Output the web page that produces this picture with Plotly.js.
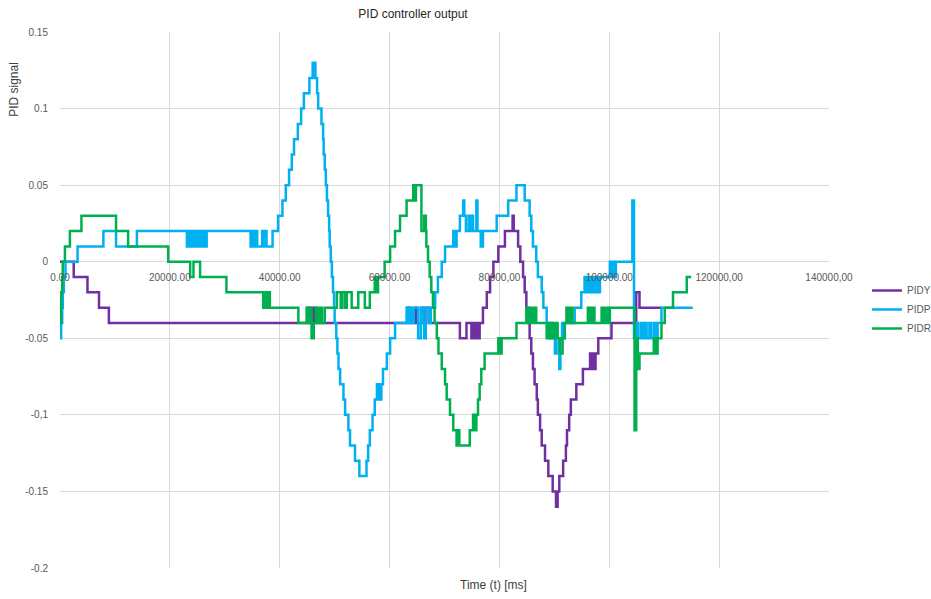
<!DOCTYPE html>
<html>
<head>
<meta charset="utf-8">
<script src="https://cdn.plot.ly/plotly-3.0.1.min.js"></script>
<style>
html,body{margin:0;padding:0;background:#fff;}
#chart{width:931px;height:599px;}
</style>
</head>
<body>
<div id="chart"></div>
<script>
// ---- Data (time in ms, PID signal values) ----
const seriesNames = ["PIDY", "PIDP", "PIDR"];

const tPIDY = [0, 2500, 5000, 7100, 8900, 45000, 45200, 45400, 45700, 45900, 46100, 46400, 46600,
  63300, 63700, 64600, 65000, 65800, 66200, 66700, 67300, 72800, 74000, 74900, 75300, 75500, 75900,
  76200, 76400, 77000, 77700, 78300, 78900, 79800, 81000, 82400, 82600, 83400, 83800, 84300, 84600,
  84900, 85200, 85500, 85800, 86100, 86400, 86800, 87000, 87400, 87700, 88300, 88900, 89700, 90300,
  90600, 90900, 91600, 92100, 92300, 92700, 93000, 94000, 95200, 96500, 96700, 97000, 97300, 97500,
  98000, 100400, 104900, 105500, 109500];
const vPIDY = [0, -0.01, -0.02, -0.03, -0.04, -0.03, -0.04, -0.03, -0.04, -0.03, -0.04, -0.03, -0.04,
  -0.03, -0.04, -0.03, -0.04, -0.03, -0.04, -0.03, -0.04, -0.05, -0.04, -0.05, -0.04, -0.05, -0.04,
  -0.05, -0.04, -0.03, -0.02, -0.01, 0, 0.01, 0.02, 0.03, 0.02, 0.01, 0, -0.01, -0.02,
  -0.03, -0.04, -0.05, -0.06, -0.07, -0.08, -0.09, -0.10, -0.11, -0.12, -0.13, -0.14, -0.15, -0.16,
  -0.15, -0.14, -0.13, -0.12, -0.11, -0.10, -0.09, -0.08, -0.07, -0.06, -0.07, -0.06, -0.07, -0.06,
  -0.05, -0.04, -0.02, -0.03, -0.03];

const tPIDP = [0, 200, 400, 500, 700, 1000, 3200, 7900, 10200, 14000, 23100, 23300, 23600, 23800,
  24100, 24400, 24700, 24900, 25200, 25500, 25800, 26000, 26300, 26700, 34700, 35000, 35300, 35600,
  35900, 36800, 37100, 37400, 37600, 38700, 39700, 40500, 41100, 41700, 42200, 42600, 43300, 43900,
  44400, 45400, 46000, 46100, 46300, 46500, 46800, 47000, 47600, 47900, 48000, 48200, 48400, 48600,
  48800, 49000, 49100, 49300, 49500, 49700, 49900, 50000, 50300, 50500, 50700, 51000, 51600, 51900,
  52500, 52800, 53700, 54500, 55800, 56100, 56400, 56900, 57300, 57700, 57900, 58100, 58300, 58500,
  58800, 59500, 60100, 61000, 63100, 63400, 63700, 64100, 64400, 65200, 65700, 66100, 66300, 66600,
  67200, 67500, 68300, 68800, 69500, 70100, 71600, 71900, 72200, 72800, 73400, 73600, 73900, 74400,
  74700, 75000, 75200, 75800, 76000, 76600, 77000, 79500, 81600, 83100, 84600, 85500, 85800, 86100,
  86700, 87000, 87700, 88000, 88600, 89200, 89400, 89700, 90100, 90400, 90900, 91100, 91400, 91600,
  91900, 93700, 94900, 95500, 95800, 96100, 96500, 96800, 97200, 97500, 97900, 98300, 100100, 100400,
  100600, 100900, 101200, 104200, 104500, 104800, 105200, 105700, 106100, 106500, 106800, 107300,
  107600, 108100, 108500, 108800, 109500, 115200];
const vPIDP = [-0.05, -0.04, -0.03, -0.02, -0.01, 0, 0.01, 0.02, 0.01, 0.02, 0.01, 0.02, 0.01, 0.02,
  0.01, 0.02, 0.01, 0.02, 0.01, 0.02, 0.01, 0.02, 0.01, 0.02, 0.01, 0.02, 0.01, 0.02,
  0.01, 0.02, 0.01, 0.02, 0.01, 0.02, 0.03, 0.04, 0.05, 0.06, 0.07, 0.08, 0.09, 0.10,
  0.11, 0.12, 0.13, 0.12, 0.13, 0.12, 0.11, 0.10, 0.09, 0.08, 0.07, 0.06, 0.05, 0.04,
  0.03, 0.02, 0.01, 0, -0.01, -0.02, -0.03, -0.04, -0.05, -0.06, -0.07, -0.08, -0.09, -0.10,
  -0.11, -0.12, -0.13, -0.14, -0.13, -0.12, -0.11, -0.10, -0.09, -0.08, -0.09, -0.08, -0.09, -0.08,
  -0.07, -0.06, -0.05, -0.04, -0.03, -0.04, -0.03, -0.04, -0.03, -0.05, -0.03, -0.04, -0.05, -0.03,
  -0.04, -0.03, -0.02, -0.01, 0, 0.01, 0.02, 0.01, 0.02, 0.03, 0.04, 0.03, 0.02, 0.03,
  0.02, 0.03, 0.02, 0.04, 0.02, 0.01, 0.02, 0.03, 0.04, 0.05, 0.04, 0.03, 0.02, 0.01,
  0, -0.01, -0.02, -0.03, -0.04, -0.05, -0.04, -0.05, -0.06, -0.05, -0.07, -0.05, -0.04, -0.05,
  -0.04, -0.03, -0.02, -0.01, -0.02, -0.01, -0.02, -0.01, -0.02, -0.01, -0.02, -0.01, 0, -0.01,
  0, -0.01, 0, 0.04, -0.05, -0.04, -0.05, -0.04, -0.05, -0.04, -0.05, -0.04,
  -0.05, -0.04, -0.05, -0.04, -0.03, -0.03];

const tPIDR = [0, 200, 400, 500, 900, 1800, 3900, 10200, 12400, 19700, 23700, 24300, 25500, 30300,
  37000, 37300, 37700, 37900, 38200, 43400, 44900, 45100, 45500, 45800, 46200, 46600, 47000, 47300,
  47700, 48200, 50400, 51100, 51400, 51900, 52200, 53100, 54300, 55500, 56400, 57300, 57600, 57900,
  59100, 60100, 61000, 61900, 63100, 64300, 64500, 64800, 65800, 66300, 66600, 66700, 67000, 67300,
  67600, 67900, 68200, 68600, 68900, 69500, 70100, 70400, 71000, 71600, 72200, 72400, 72700, 74600,
  75200, 75500, 75800, 76100, 76400, 76700, 77300, 79800, 80100, 80400, 83100, 84900, 85200, 85600,
  86000, 86300, 86700, 88600, 88900, 89200, 89500, 89900, 90300, 90600, 91000, 91500, 91900, 92200,
  92500, 92900, 93300, 96100, 96500, 96900, 97300, 98600, 98900, 99300, 99700, 100100, 104600, 104900,
  105200, 105500, 108100, 108500, 108800, 109500, 110100, 111600, 114100, 114900];
const vPIDR = [-0.04, -0.02, -0.01, 0, 0.01, 0.02, 0.03, 0.02, 0.01, 0, -0.01, 0, -0.01, -0.02,
  -0.03, -0.02, -0.03, -0.02, -0.03, -0.04, -0.03, -0.04, -0.03, -0.05, -0.04, -0.03, -0.04, -0.03,
  -0.04, -0.03, -0.02, -0.03, -0.02, -0.03, -0.02, -0.03, -0.02, -0.03, -0.02, -0.01, -0.02, -0.01,
  0, 0.01, 0.02, 0.03, 0.04, 0.05, 0.04, 0.05, 0.02, 0.03, 0.02, 0.01, 0, -0.01,
  -0.02, -0.03, -0.04, -0.05, -0.06, -0.07, -0.08, -0.09, -0.10, -0.11, -0.12, -0.11, -0.12, -0.11,
  -0.10, -0.11, -0.10, -0.09, -0.08, -0.07, -0.06, -0.05, -0.06, -0.05, -0.04, -0.03, -0.04, -0.03,
  -0.04, -0.03, -0.04, -0.05, -0.04, -0.05, -0.04, -0.05, -0.04, -0.05, -0.06, -0.05, -0.04, -0.03,
  -0.04, -0.03, -0.04, -0.03, -0.04, -0.03, -0.04, -0.03, -0.04, -0.03, -0.04, -0.03, -0.11, -0.05,
  -0.07, -0.06, -0.05, -0.06, -0.05, -0.04, -0.03, -0.02, -0.01, -0.01];

const xTickVals = [0, 20000, 40000, 60000, 80000, 100000, 120000, 140000];
const xTickText = ["0.00", "20000.00", "40000.00", "60000.00", "80000,00", "100000.00", "120000,00", "140000,00"];
const yTickVals = [-0.2, -0.15, -0.1, -0.05, 0, 0.05, 0.1, 0.15];
const yTickText = ["-0.2", "-0.15", "-0,1", "-0.05", "0", "0.05", "0.1", "0.15"];

const colors = ["#7030A0", "#00B0F0", "#00B050"];
const FONT = "Liberation Sans, Arial, sans-serif";

const xs = [tPIDY, tPIDP, tPIDR];
const ys = [vPIDY, vPIDP, vPIDR];
const traces = seriesNames.map((name, i) => ({
  type: "scatter",
  mode: "lines",
  name: name,
  x: xs[i],
  y: ys[i],
  line: {color: colors[i], width: 2.5, shape: "hv"},
  hoverinfo: "skip"
}));

const layout = {
  width: 931,
  height: 599,
  paper_bgcolor: "#ffffff",
  plot_bgcolor: "#ffffff",
  margin: {l: 60, r: 102, t: 32, b: 31},
  font: {family: FONT, color: "#595959", size: 10},
  title: {
    text: "PID controller output",
    font: {family: FONT, size: 12, color: "#262626"},
    x: 413 / 931, xref: "container", xanchor: "center",
    y: 1 - 14 / 599, yref: "container", yanchor: "middle"
  },
  xaxis: {
    range: [0, 140000],
    tickmode: "array",
    tickvals: xTickVals,
    ticktext: xTickText,
    showgrid: true,
    gridcolor: "#d9d9d9",
    gridwidth: 1,
    zeroline: false,
    showline: false,
    ticks: "",
    anchor: "free",
    position: 0.2 / 0.35,
    ticklabelstandoff: 8,
    tickfont: {family: FONT, size: 10, color: "#595959"}
  },
  yaxis: {
    range: [-0.2, 0.15],
    tickmode: "array",
    tickvals: yTickVals,
    ticktext: yTickText,
    showgrid: true,
    gridcolor: "#d9d9d9",
    gridwidth: 1,
    zeroline: true,
    zerolinecolor: "#d9d9d9",
    zerolinewidth: 1,
    showline: false,
    ticks: "",
    ticklabelstandoff: 11,
    tickfont: {family: FONT, size: 10, color: "#595959"}
  },
  showlegend: true,
  legend: {
    xref: "container", yref: "container",
    x: 867 / 931, y: 1 - 276 / 599,
    xanchor: "left", yanchor: "top",
    font: {family: FONT, size: 10, color: "#595959"},
    bgcolor: "rgba(0,0,0,0)",
    itemwidth: 30
  },
  annotations: [
    {
      text: "PID signal", xref: "paper", yref: "paper",
      x: -46 / 769.5, y: 1 - (90 - 32) / 537.5,
      xanchor: "center", yanchor: "middle", textangle: -90, showarrow: false,
      font: {family: FONT, size: 12, color: "#404040"}
    },
    {
      text: "Time (t) [ms]", xref: "paper", yref: "paper",
      x: (494 - 60) / 769.5, y: -(586 - 568.5) / 537.5,
      xanchor: "center", yanchor: "middle", showarrow: false,
      font: {family: FONT, size: 12, color: "#404040"}
    }
  ],
  hovermode: false
};

Plotly.newPlot("chart", traces, layout, {displayModeBar: false, staticPlot: true});
</script>
</body>
</html>
